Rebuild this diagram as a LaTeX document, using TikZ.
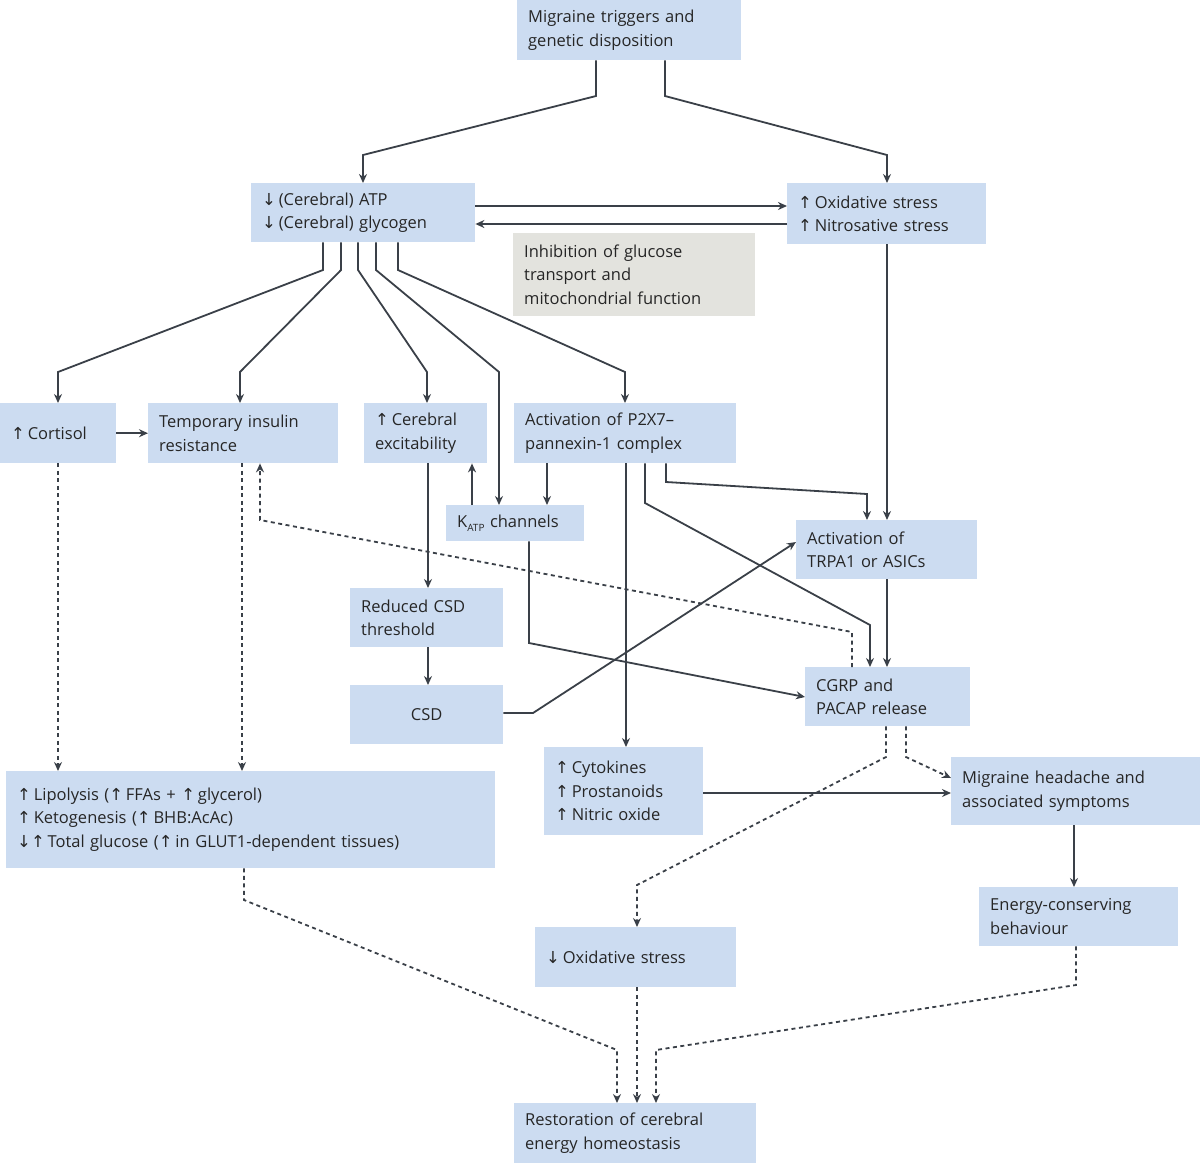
\documentclass[tikz,border=0pt]{standalone}
\usepackage{fontspec}
\setmainfont{Open Sans}
\newfontfamily\arrfont{DejaVu Sans}
\usetikzlibrary{arrows.meta}
\newcommand{\U}{{\arrfont ↑}}
\newcommand{\D}{{\arrfont ↓}}
\definecolor{bx}{HTML}{CCDCF1}
\definecolor{gr}{HTML}{E3E3DE}
\definecolor{ln}{HTML}{3A4048}
\tikzset{
 bbox/.style={fill=bx,anchor=north west,align=left,inner xsep=11pt,inner ysep=0pt,text=black!85,font=\fontsize{16.5}{23.5}\selectfont},
 con/.style={draw=ln,line width=1.8pt,-{Stealth[length=9pt,width=8pt]}},
 dcon/.style={con,dash pattern=on 4pt off 3.5pt},
}
\newcommand{\bxn}[7][bx]{\node[bbox,fill=#1,minimum width=#5pt,minimum height=#6pt,text width=#5pt-22pt] (#2) at (#3,#4) {#7};}
\begin{document}
\begin{tikzpicture}[x=1pt,y=-1pt]
\useasboundingbox (0,0) rectangle (1200,1163);
\bxn{trig}{517}{0}{224}{60}{Migraine triggers and\\genetic disposition}
\bxn{atp}{251}{183}{224}{59}{\D\,(Cerebral) ATP\\\D\,(Cerebral) glycogen}
\bxn{ox}{787}{183}{199}{61}{\U\,Oxidative stress\\\U\,Nitrosative stress}
\bxn[gr]{inh}{513}{233}{242}{83}{Inhibition of glucose\\transport and\\mitochondrial function}
\bxn{cort}{0}{403}{116}{60}{\U\,Cortisol}
\bxn{ins}{148}{403}{190}{60}{Temporary insulin\\resistance}
\bxn{exc}{364}{403}{123}{60}{\U\,Cerebral\\excitability}
\bxn{p2x}{514}{403}{222}{60}{Activation of P2X7--\\pannexin-1 complex}
\node[bbox,minimum width=138pt,minimum height=36pt,text width=116pt] (katp) at (446,505) {K\raisebox{-4pt}{\fontsize{10}{10}\selectfont ATP} channels};
\bxn{trp}{796}{520}{181}{59}{Activation of\\TRPA1 or ASICs}
\bxn{rcsd}{350}{588}{153}{59}{Reduced CSD\\threshold}
\node[bbox,anchor=north west,align=center,minimum width=153pt,minimum height=59pt] (csd) at (350,685) {CSD};
\bxn{cgrp}{805}{667}{165}{59}{CGRP and\\PACAP release}
\bxn{cyt}{544}{747}{159}{88}{\U\,Cytokines\\\U\,Prostanoids\\\U\,Nitric oxide}
\bxn{mig}{951}{757}{249}{68}{Migraine headache and\\associated symptoms}
\bxn{lip}{6}{771}{489}{97}{\U\,Lipolysis (\U\,FFAs + \U\,glycerol)\\\U\,Ketogenesis (\U\,BHB:AcAc)\\\D\U\,Total glucose (\U\,in GLUT1-dependent tissues)}
\bxn{ene}{979}{887}{199}{59}{Energy-conserving\\behaviour}
\bxn{dox}{535}{927}{201}{60}{\D\,Oxidative stress}
\bxn{res}{514}{1103}{242}{60}{Restoration of cerebral\\energy homeostasis}
% connectors
\draw[con] (trig.south-|596,0) -- (596,96) -- (363,155) -- (atp.north-|363,0);
\draw[con] (trig.south-|665,0) -- (665,96) -- (887,155) -- (ox.north-|887,0);
\draw[con] (atp.east|-0,206) -- (ox.west|-0,206);
\draw[con] (ox.west|-0,224) -- (atp.east|-0,224);
\draw[con] (atp.south-|323,0) -- (323,270) -- (58,372) -- (cort.north-|58,0);
\draw[con] (atp.south-|341,0) -- (341,270) -- (240,372) -- (ins.north-|240,0);
\draw[con] (atp.south-|358,0) -- (358,270) -- (427,372) -- (exc.north-|427,0);
\draw[con] (atp.south-|376,0) -- (376,270) -- (499,372) -- (katp.north-|499,0);
\draw[con] (atp.south-|398,0) -- (398,270) -- (625,372) -- (p2x.north-|625,0);
\draw[con] (ox.south-|887,0) -- (trp.north-|887,0);
\draw[con] (cort) -- (ins);
\draw[con] (katp.north-|472,0) -- (exc.south-|472,0);
\draw[con] (p2x.south-|547,0) -- (katp.north-|547,0);
\draw[con] (p2x.south-|666,0) -- (666,482) -- (867,494) -- (trp.north-|867,0);
\draw[con] (p2x.south-|645,0) -- (645,503) -- (870,625) -- (cgrp.north-|870,0);
\draw[con] (p2x.south-|626,0) -- (cyt.north-|626,0);
\draw[con] (exc.south-|428,0) -- (rcsd.north-|428,0);
\draw[con] (rcsd.south-|428,0) -- (csd.north-|428,0);
\draw[con] (csd.east|-0,713) -- (533,713) -- (trp.west|-0,542);
\draw[con] (katp.south-|529,0) -- (529,643) -- (cgrp.west|-0,697);
\draw[con] (trp.south-|887,0) -- (cgrp.north-|887,0);
\draw[dcon] (cgrp.north-|852,0) -- (852,632) -- (260,520) -- (ins.south-|260,0);
\draw[dcon] (cort.south-|58,0) -- (lip.north-|58,0);
\draw[dcon] (ins.south-|242,0) -- (lip.north-|242,0);
\draw[con] (cyt.east|-0,793) -- (mig.west|-0,793);
\draw[dcon] (cgrp.south-|906,0) -- (906,757) -- (mig.west|-0,778);
\draw[dcon] (cgrp.south-|886,0) -- (886,757) -- (637,885) -- (dox.north-|637,0);
\draw[con] (mig.south-|1074,0) -- (ene.north-|1074,0);
\draw[dcon] (lip.south-|244,0) -- (244,900) -- (617,1050) -- (res.north-|617,0);
\draw[dcon] (dox.south-|637,0) -- (res.north-|637,0);
\draw[dcon] (ene.south-|1076,0) -- (1076,985) -- (656,1050) -- (res.north-|656,0);
\end{tikzpicture}
\end{document}
